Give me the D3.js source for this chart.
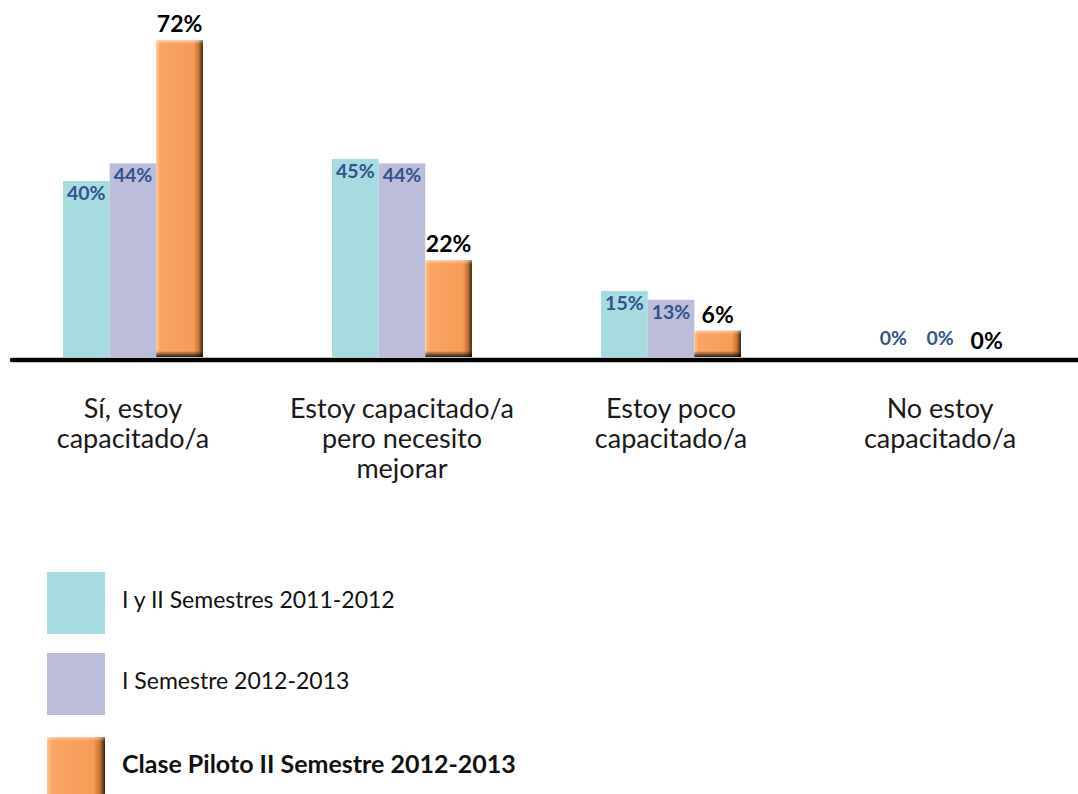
<!DOCTYPE html>
<html>
<head>
<meta charset="utf-8">
<script src="https://cdn.jsdelivr.net/npm/d3@7"></script>
<style>
  html, body { margin: 0; padding: 0; background: #ffffff; }
  svg { display: block; font-family: Lato, "Open Sans", sans-serif; }
</style>
</head>
<body>
<svg id="chart" width="1078" height="794"></svg>
<script>
// Survey answers (categories) and the three groups compared (series)
const categories = [
  ["Sí, estoy", "capacitado/a"],
  ["Estoy capacitado/a", "pero necesito", "mejorar"],
  ["Estoy poco", "capacitado/a"],
  ["No estoy", "capacitado/a"]
];
const seriesNames = [
  "I y II Semestres 2011-2012",
  "I Semestre 2012-2013",
  "Clase Piloto II Semestre 2012-2013"
];
// Percentages per category, one array per series
const semestres2011 = [40, 45, 15, 0];
const semestre2012 = [44, 44, 13, 0];
const clasePiloto = [72, 22, 6, 0];
const seriesValues = [semestres2011, semestre2012, clasePiloto];

const fills = ["#a6dbe0", "#bcbddb", "url(#orangeBevel)"];
const labelColors = ["#34528e", "#34528e", "#000000"];

const svg = d3.select("#chart");
const defs = svg.append("defs");

// Bevelled look for the highlighted series
const hg = defs.append("linearGradient").attr("id", "orangeBevel")
  .attr("x1", 0).attr("x2", 1).attr("y1", 0).attr("y2", 0);
[["0%", "#fdc493"], ["9%", "#f9a565"], ["80%", "#f79b57"], ["91%", "#c77533"], ["100%", "#3d230c"]]
  .forEach(([o, c]) => hg.append("stop").attr("offset", o).attr("stop-color", c));
const vg = defs.append("linearGradient").attr("id", "bottomShade")
  .attr("x1", 0).attr("x2", 0).attr("y1", 0).attr("y2", 1);
[["0%", "#000", 0], ["100%", "#000", 0.85]]
  .forEach(([o, c, a]) => vg.append("stop").attr("offset", o).attr("stop-color", c).attr("stop-opacity", a));
const tg = defs.append("linearGradient").attr("id", "topShine")
  .attr("x1", 0).attr("x2", 0).attr("y1", 0).attr("y2", 1);
[["0%", "#fff", 0.45], ["100%", "#fff", 0]]
  .forEach(([o, c, a]) => tg.append("stop").attr("offset", o).attr("stop-color", c).attr("stop-opacity", a));

const baseY = 357;
const y = d3.scaleLinear().domain([0, 100]).range([baseY, baseY - 440]);
const x0 = d3.scaleBand().domain(d3.range(categories.length))
  .range([63, 1010]).paddingInner(0.48).paddingOuter(0);
const x1 = d3.scaleBand().domain(d3.range(seriesNames.length))
  .range([0, x0.bandwidth()]).padding(0);

const groups = svg.append("g").selectAll("g")
  .data(categories)
  .join("g")
  .attr("transform", (d, i) => `translate(${x0(i)},0)`);

// Bars
groups.each(function(cat, ci) {
  const g = d3.select(this);
  seriesNames.forEach((s, si) => {
    const v = seriesValues[si][ci];
    const bx = x1(si), bw = x1.bandwidth();
    const top = y(v), h = baseY - top;
    if (h > 0) {
      g.append("rect").attr("x", bx).attr("y", top).attr("width", bw).attr("height", h)
        .attr("fill", fills[si]);
      if (si === 2) {
        const sh = Math.min(6, h);
        g.append("rect").attr("x", bx).attr("y", baseY - sh).attr("width", bw).attr("height", sh)
          .attr("fill", "url(#bottomShade)");
        const th = Math.min(4, h);
        g.append("rect").attr("x", bx).attr("y", top).attr("width", bw).attr("height", th)
          .attr("fill", "url(#topShine)");
      }
    }
  });
});

// Value labels
groups.each(function(cat, ci) {
  const g = d3.select(this);
  seriesNames.forEach((s, si) => {
    const v = seriesValues[si][ci];
    const cx = x1(si) + x1.bandwidth() / 2;
    const top = y(v);
    const highlight = si === 2;
    let ty;
    if (highlight) ty = top - 8;
    else if (v === 0) ty = top - 12;
    else ty = top + 19;
    g.append("text")
      .attr("x", cx).attr("y", ty)
      .attr("text-anchor", "middle")
      .attr("font-weight", 700)
      .attr("font-size", highlight ? 23 : 19.5)
      .attr("fill", labelColors[si])
      .text(v + "%");
  });
});

// Baseline
svg.append("line")
  .attr("x1", 12).attr("x2", 1078).attr("y1", baseY + 3).attr("y2", baseY + 3)
  .attr("stroke", "#000").attr("stroke-width", 4.5).attr("stroke-linecap", "round");

// Category labels
groups.append("text")
  .attr("text-anchor", "middle")
  .attr("font-size", 27)
  .attr("fill", "#1a1a1a")
  .selectAll("tspan")
  .data(d => d)
  .join("tspan")
  .attr("x", x0.bandwidth() / 2)
  .attr("y", (d, i) => 418 + i * 30)
  .text(d => d);

// Legend
const legend = svg.append("g").selectAll("g")
  .data(seriesNames)
  .join("g")
  .attr("transform", (d, i) => `translate(47,${[572, 653, 737][i]})`);
legend.append("rect")
  .attr("width", 58).attr("height", 62)
  .attr("fill", (d, i) => fills[i]);
legend.filter((d, i) => i === 2).append("rect")
  .attr("width", 58).attr("height", 4).attr("fill", "url(#topShine)");
legend.append("text")
  .attr("x", 75).attr("y", 30)
  .attr("dominant-baseline", "middle")
  .attr("font-size", (d, i) => i === 2 ? 25 : 23)
  .attr("font-weight", (d, i) => i === 2 ? 700 : 400)
  .attr("fill", "#111")
  .text(d => d);
</script>
</body>
</html>
